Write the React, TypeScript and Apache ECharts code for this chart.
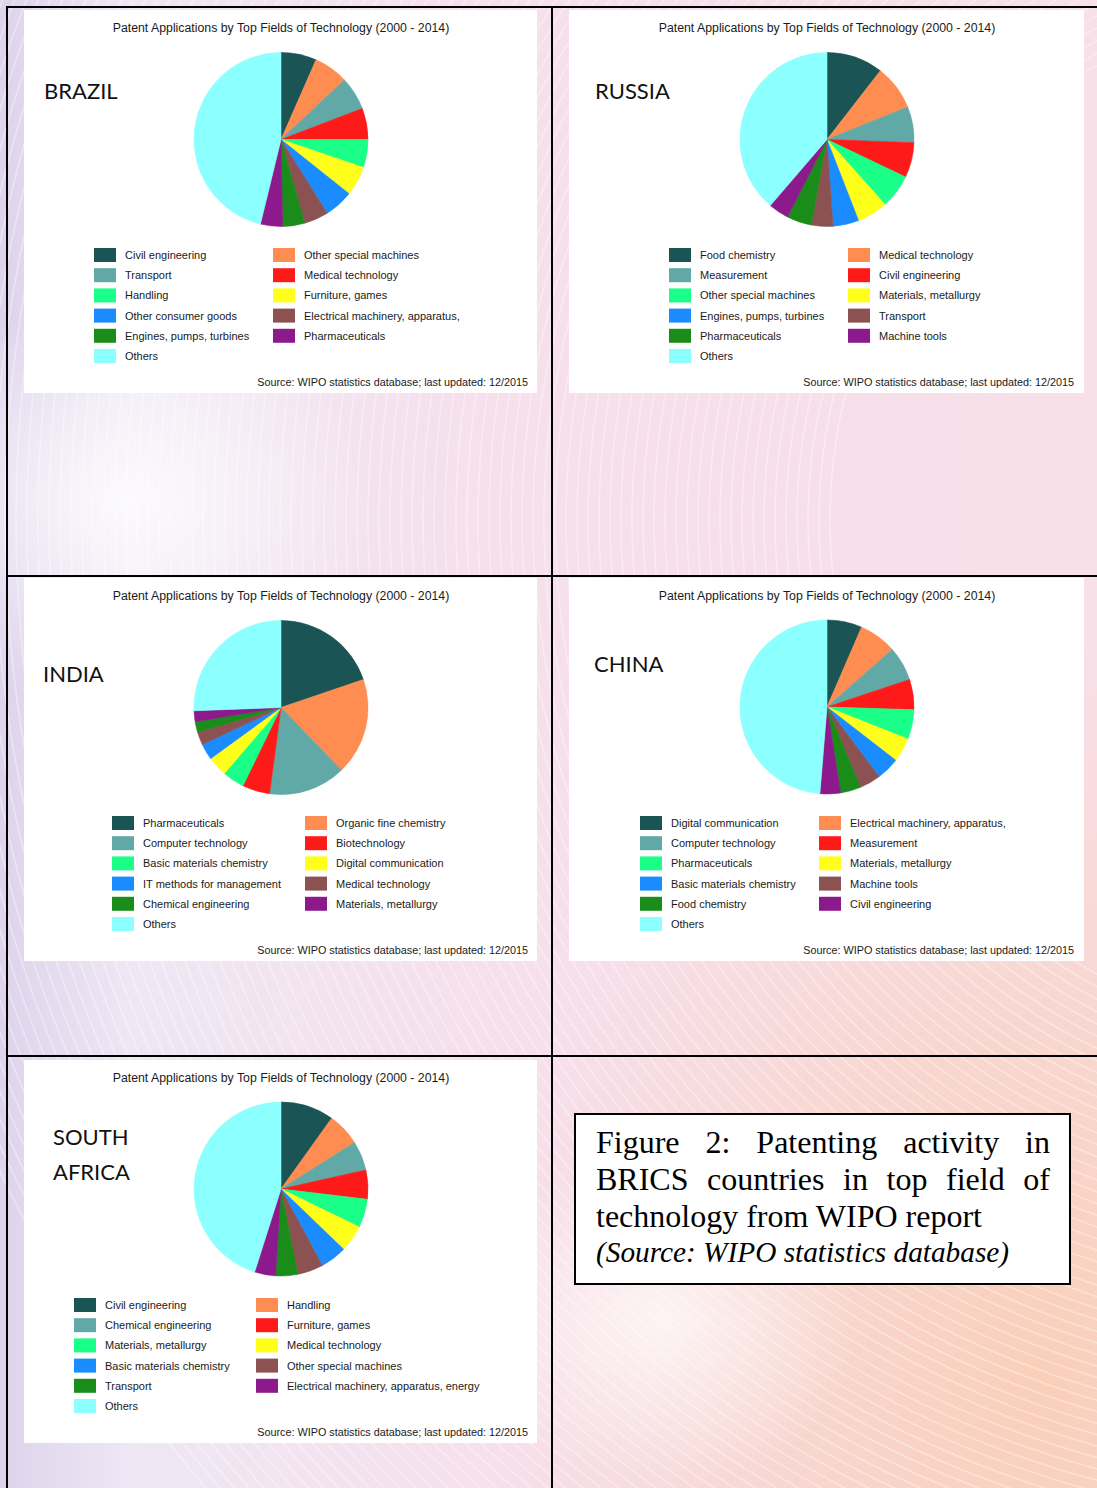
import React, { useEffect, useRef } from "react";
import * as echarts from "echarts";

// Slice colours, in drawing order (clockwise from 12 o'clock); the 11th is "Others".
const SLICE_COLORS = [
  "#1b5454", "#ff8c50", "#60a9a6", "#ff1a1a", "#1aff87", "#ffff1a",
  "#1a8cff", "#8c5252", "#1a8c1a", "#8c1a8c", "#8cffff",
];

const CHART_TITLE = "Patent Applications by Top Fields of Technology (2000 - 2014)";
const SOURCE_NOTE = "Source: WIPO statistics database; last updated: 12/2015";

// Brazil
const brazilFields = [
  "Civil engineering", "Other special machines", "Transport", "Medical technology",
  "Handling", "Furniture, games", "Other consumer goods", "Electrical machinery, apparatus,",
  "Engines, pumps, turbines", "Pharmaceuticals", "Others",
];
const brazilShares = [6.6, 6.4, 6.2, 5.8, 5.2, 5.5, 5.4, 4.5, 4.1, 4.1, 46.2];

// Russia
const russiaFields = [
  "Food chemistry", "Medical technology", "Measurement", "Civil engineering",
  "Other special machines", "Materials, metallurgy", "Engines, pumps, turbines", "Transport",
  "Pharmaceuticals", "Machine tools", "Others",
];
const russiaShares = [10.5, 8.4, 6.7, 6.5, 6.3, 5.7, 4.8, 4.0, 4.6, 3.8, 38.7];

// India
const indiaFields = [
  "Pharmaceuticals", "Organic fine chemistry", "Computer technology", "Biotechnology",
  "Basic materials chemistry", "Digital communication", "IT methods for management", "Medical technology",
  "Chemical engineering", "Materials, metallurgy", "Others",
];
const indiaShares = [19.8, 18.0, 14.3, 5.1, 4.1, 3.7, 3.0, 2.4, 2.0, 2.0, 25.6];

// China
const chinaFields = [
  "Digital communication", "Electrical machinery, apparatus,", "Computer technology", "Measurement",
  "Pharmaceuticals", "Materials, metallurgy", "Basic materials chemistry", "Machine tools",
  "Food chemistry", "Civil engineering", "Others",
];
const chinaShares = [6.5, 7.0, 6.4, 5.6, 5.5, 4.5, 4.3, 3.9, 3.8, 3.8, 48.7];

// South Africa
const southAfricaFields = [
  "Civil engineering", "Handling", "Chemical engineering", "Furniture, games",
  "Materials, metallurgy", "Medical technology", "Basic materials chemistry", "Other special machines",
  "Transport", "Electrical machinery, apparatus, energy", "Others",
];
const southAfricaShares = [9.9, 6.1, 5.5, 5.4, 5.3, 5.0, 4.9, 4.8, 4.1, 3.9, 45.1];

const PAGE_W = 1097;
const PAGE_H = 1488;

// Placement of each country panel on the page.
const PANELS = [
  {
    name: "Brazil", label: ["BRAZIL"], labelX: 44, labelY: [90],
    fields: brazilFields, shares: brazilShares,
    box: [24, 10, 513, 383], center: [281, 139.5], titleX: 281, titleY: 28,
    sourceX: 528, sourceY: 382, legend: [[94, 248], [273, 248]],
  },
  {
    name: "Russia", label: ["RUSSIA"], labelX: 595, labelY: [90],
    fields: russiaFields, shares: russiaShares,
    box: [569, 10, 515, 383], center: [827, 139.5], titleX: 827, titleY: 28,
    sourceX: 1074, sourceY: 382, legend: [[669, 248], [848, 248]],
  },
  {
    name: "India", label: ["INDIA"], labelX: 43, labelY: [673],
    fields: indiaFields, shares: indiaShares,
    box: [24, 578, 513, 383], center: [281, 707.5], titleX: 281, titleY: 596,
    sourceX: 528, sourceY: 950, legend: [[112, 816], [305, 816]],
  },
  {
    name: "China", label: ["CHINA"], labelX: 594, labelY: [663],
    fields: chinaFields, shares: chinaShares,
    box: [569, 578, 515, 383], center: [827, 707], titleX: 827, titleY: 596,
    sourceX: 1074, sourceY: 950, legend: [[640, 816], [819, 816]],
  },
  {
    name: "South Africa", label: ["SOUTH", "AFRICA"], labelX: 53, labelY: [1136, 1171],
    fields: southAfricaFields, shares: southAfricaShares,
    box: [24, 1060, 513, 383], center: [281, 1189], titleX: 281, titleY: 1078,
    sourceX: 528, sourceY: 1432, legend: [[74, 1298], [256, 1298]],
  },
];

const SANS = "'Liberation Sans', Arial, sans-serif";

function backgroundElements(): any[] {
  const els: any[] = [
    {
      type: "rect",
      shape: { x: 0, y: 0, width: PAGE_W, height: PAGE_H },
      style: {
        fill: new echarts.graphic.LinearGradient(0, 0, 1, 0, [
          { offset: 0, color: "#ddd4ec" },
          { offset: 0.12, color: "#efe7f4" },
          { offset: 0.45, color: "#f6e0ec" },
          { offset: 1, color: "#f8dfe8" },
        ]),
      },
    },
    {
      type: "rect",
      shape: { x: 0, y: 0, width: PAGE_W, height: PAGE_H },
      style: {
        fill: new echarts.graphic.RadialGradient(0.95, 0.93, 0.5, [
          { offset: 0, color: "rgba(250,200,165,0.7)" },
          { offset: 1, color: "rgba(250,200,165,0)" },
        ]),
      },
    },
    {
      type: "rect",
      shape: { x: 0, y: 300, width: 500, height: 400 },
      style: {
        fill: new echarts.graphic.RadialGradient(0.25, 0.5, 0.5, [
          { offset: 0, color: "rgba(255,255,255,0.8)" },
          { offset: 1, color: "rgba(255,255,255,0)" },
        ]),
      },
    },
    {
      type: "rect",
      shape: { x: 500, y: 1150, width: 400, height: 338 },
      style: {
        fill: new echarts.graphic.RadialGradient(0.4, 0.5, 0.5, [
          { offset: 0, color: "rgba(255,255,255,0.7)" },
          { offset: 1, color: "rgba(255,255,255,0)" },
        ]),
      },
    },
  ];
  // faint swirl of thin white arcs
  for (let r = 520; r <= 1500; r += 11) {
    els.push({
      type: "circle",
      shape: { cx: 1350, cy: 520, r },
      style: { fill: "none", stroke: "rgba(255,255,255,0.36)", lineWidth: 1.6 },
      silent: true,
    });
  }
  return els;
}

function frameElements(): any[] {
  const stroke = { stroke: "#000", lineWidth: 2 };
  return [
    { type: "line", shape: { x1: 7, y1: 6, x2: 7, y2: PAGE_H }, style: stroke },
    { type: "line", shape: { x1: 552, y1: 6, x2: 552, y2: PAGE_H }, style: stroke },
    { type: "line", shape: { x1: 6, y1: 7, x2: PAGE_W, y2: 7 }, style: stroke },
    { type: "line", shape: { x1: 6, y1: 576, x2: PAGE_W, y2: 576 }, style: stroke },
    { type: "line", shape: { x1: 6, y1: 1056, x2: PAGE_W, y2: 1056 }, style: stroke },
  ];
}

function panelElements(): any[] {
  const els: any[] = [];
  PANELS.forEach((p) => {
    const [x, y, w, h] = p.box;
    els.push({ type: "rect", shape: { x, y, width: w, height: h }, style: { fill: "#ffffff" } });
    els.push({
      type: "text", x: p.titleX, y: p.titleY,
      style: { text: CHART_TITLE, font: `12.3px ${SANS}`, fill: "#1a1a1a", textAlign: "center", textVerticalAlign: "middle" },
    });
    els.push({
      type: "text", x: p.sourceX, y: p.sourceY,
      style: { text: SOURCE_NOTE, font: `10.8px ${SANS}`, fill: "#1a1a1a", textAlign: "right", textVerticalAlign: "middle" },
    });
    p.label.forEach((t, i) => {
      els.push({
        type: "text", x: p.labelX, y: p.labelY[i],
        style: { text: t, font: "22px Lato, 'Open Sans', sans-serif", fill: "#111", textAlign: "left", textVerticalAlign: "middle" },
      });
    });
  });
  return els;
}

function buildOption(): any {
  const series = PANELS.map((p) => ({
    type: "pie",
    name: p.name,
    center: p.center,
    radius: 87,
    startAngle: 90,
    clockwise: true,
    silent: true,
    label: { show: false },
    labelLine: { show: false },
    emphasis: { disabled: true },
    data: p.fields.map((name, i) => ({
      name,
      value: p.shares[i],
      itemStyle: { color: SLICE_COLORS[i], borderColor: SLICE_COLORS[i], borderWidth: 0.6 },
    })),
  }));

  const legend = PANELS.flatMap((p) =>
    [0, 1].map((col) => ({
      orient: "vertical",
      left: p.legend[col][0],
      top: p.legend[col][1],
      padding: 0,
      itemWidth: 22,
      itemHeight: 14,
      itemGap: 6.2,
      icon: "rect",
      selectedMode: false,
      textStyle: { fontFamily: SANS, fontSize: 11, color: "#1a1a1a", padding: [0, 0, 0, 4] },
      data: p.fields
        .map((name, i) => ({ name, itemStyle: { color: SLICE_COLORS[i], borderWidth: 0 } }))
        .filter((_, i) => i % 2 === col),
    }))
  );

  return {
    animation: false,
    textStyle: { fontFamily: SANS },
    tooltip: { show: false },
    graphic: [
      { type: "group", z: 0, children: [...backgroundElements(), ...frameElements(), ...panelElements()] },
    ],
    legend,
    series,
  };
}

export default function App() {
  const ref = useRef<HTMLDivElement>(null);

  useEffect(() => {
    if (!ref.current) return;
    const chart = echarts.init(ref.current, undefined, { renderer: "svg" });
    chart.setOption(buildOption());
    return () => chart.dispose();
  }, []);

  return (
    <div style={{ position: "absolute", left: 0, top: 0, width: PAGE_W, height: PAGE_H, overflow: "hidden" }}>
      <div ref={ref} style={{ position: "absolute", left: 0, top: 0, width: PAGE_W, height: PAGE_H }} />
      <div
        style={{
          position: "absolute", left: 574, top: 1113, width: 497, height: 172,
          boxSizing: "border-box", border: "2px solid #000", background: "#fff",
          padding: "9px 19px 0 20px", fontFamily: "'Liberation Serif', 'Times New Roman', serif", color: "#000",
        }}
      >
        <div style={{ fontSize: 32, lineHeight: "37px", textAlign: "justify" }}>
          Figure 2: Patenting activity in BRICS countries in top field of technology from WIPO report
        </div>
        <div style={{ fontSize: 29.3, lineHeight: "35px", fontStyle: "italic" }}>
          (Source: WIPO statistics database)
        </div>
      </div>
    </div>
  );
}
